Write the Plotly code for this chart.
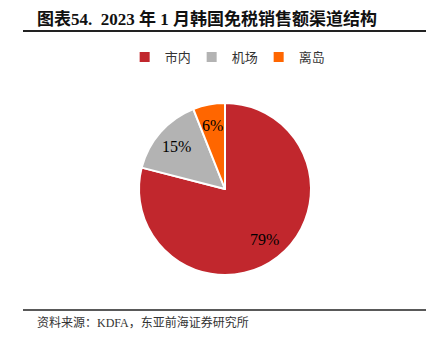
import numpy as np
import plotly.graph_objects as go

# 2023年1月韩国免税销售额渠道结构（%）
channels = ["市内", "机场", "离岛"]
shares = [79, 15, 6]
colors = ["#C1272D", "#B3B3B3", "#FF6600"]

W, H = 433, 341

# pie placement (pixels)
cx, cy, r = 225, 189, 86

fig = go.Figure(
    go.Pie(
        labels=channels,
        values=shares,
        sort=False,
        direction="clockwise",
        rotation=0,
        marker=dict(colors=colors, line=dict(color="white", width=2)),
        textinfo="none",
        hoverinfo="label+percent",
        domain=dict(x=[(cx - r) / W, (cx + r) / W], y=[(H - cy - r) / H, (H - cy + r) / H]),
    )
)

# percentage labels at each slice's mid-angle (clockwise from 12 o'clock)
vals = np.array(shares, dtype=float)
frac = vals / vals.sum()
mid = (np.cumsum(frac) - frac / 2) * 2 * np.pi
label_r = 0.75 * r
slice_labels = [
    dict(
        text=f"{v:g}%",
        x=(cx + label_r * np.sin(a)) / W,
        y=(H - cy + label_r * np.cos(a)) / H,
        xref="paper", yref="paper", xanchor="center", yanchor="middle",
        showarrow=False,
        font=dict(family="Liberation Serif, Times New Roman, serif", size=16, color="black"),
    )
    for v, a in zip(shares, mid)
]

fig.update_layout(
    width=W,
    height=H,
    margin=dict(l=0, r=0, t=0, b=0),
    paper_bgcolor="white",
    plot_bgcolor="white",
    showlegend=True,
    legend=dict(
        orientation="h",
        x=0.52,
        xanchor="center",
        y=(H - 57) / H,
        yanchor="middle",
        font=dict(family="Noto Sans CJK SC", size=13, color="#333333"),
        itemwidth=30,
        entrywidth=22,
        entrywidthmode="pixels",
        traceorder="normal",
    ),
    annotations=slice_labels + [
        dict(
            text="<b>图表54.  2023 年 1 月韩国免税销售额渠道结构</b>",
            x=35 / W, y=(H - 19) / H, xref="paper", yref="paper",
            xanchor="left", yanchor="middle", showarrow=False,
            font=dict(family="Liberation Serif, Noto Sans CJK SC", size=17, color="#111111"),
        ),
        dict(
            text="资料来源：KDFA，东亚前海证券研究所",
            x=35 / W, y=(H - 322) / H, xref="paper", yref="paper",
            xanchor="left", yanchor="middle", showarrow=False,
            font=dict(family="Liberation Serif, Noto Sans CJK SC", size=12, color="#333333"),
        ),
    ],
    shapes=[
        dict(type="line", xref="paper", yref="paper",
             x0=23 / W, x1=426 / W, y0=(H - 31) / H, y1=(H - 31) / H,
             line=dict(color="#222222", width=2)),
        dict(type="line", xref="paper", yref="paper",
             x0=23 / W, x1=426 / W, y0=(H - 310) / H, y1=(H - 310) / H,
             line=dict(color="#222222", width=1.5)),
    ],
)

fig.write_html("out.html")
